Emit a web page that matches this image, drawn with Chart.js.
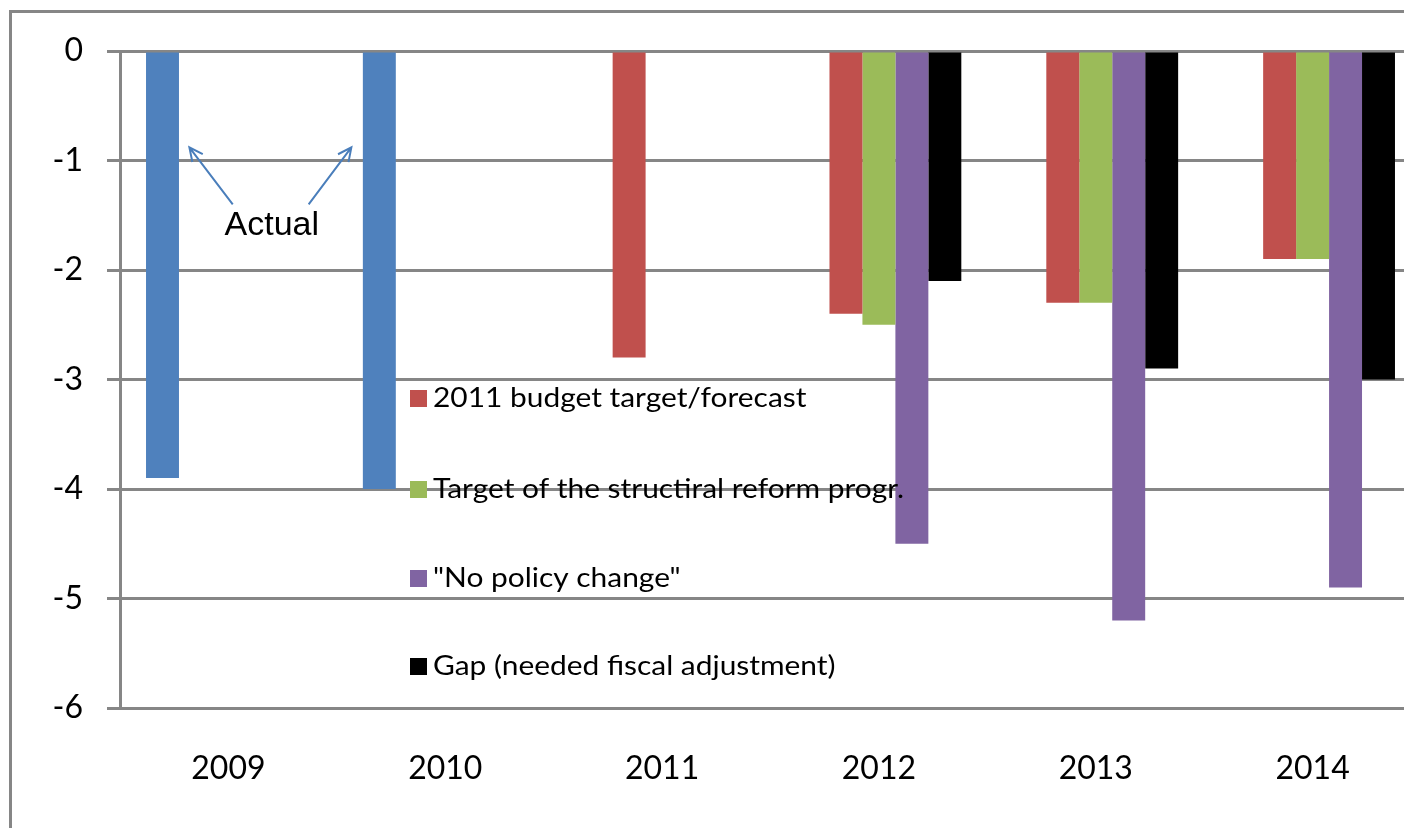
<!DOCTYPE html>
<html lang="en">
<head>
    <meta charset="UTF-8">
    <title>Budget balance: actual, targets and gap</title>
    <script src="https://cdn.jsdelivr.net/npm/chart.js"></script>
    <style>
        html, body { margin: 0; padding: 0; background: #fff; overflow: hidden; }
        #wrap { width: 1430px; height: 828px; }
    </style>
</head>
<body>
    <div id="wrap">
        <canvas id="myChart" width="1430" height="828"></canvas>
    </div>

    <script>
        const years = ['2009', '2010', '2011', '2012', '2013', '2014'];

        const actual      = [-3.9, -4.0, null, null, null, null];
        const budget2011  = [null, null, -2.8, -2.4, -2.3, -1.9];
        const reformProg  = [null, null, null, -2.5, -2.3, -1.9];
        const noPolicy    = [null, null, null, -4.5, -5.2, -4.9];
        const gap         = [null, null, null, -2.1, -2.9, -3.0];

        const gridColor = '#868686';
        const font = "Lato, 'Open Sans', sans-serif";

        // legend drawn inside the plot, like the original (text a bit stretched sideways)
        const insideLegend = {
            id: 'insideLegend',
            afterDraw(chart) {
                const ctx = chart.ctx;
                const ys = [398, 489, 578, 666];
                ctx.save();
                ctx.font = '26px ' + font;
                ctx.textBaseline = 'middle';
                chart.data.datasets.slice(1).forEach((ds, i) => {
                    ctx.fillStyle = ds.backgroundColor;
                    ctx.fillRect(410, ys[i] - 8, 17, 17);
                    ctx.save();
                    ctx.translate(433, ys[i] + 1);
                    ctx.scale(1.15, 1);
                    ctx.fillStyle = '#000';
                    ctx.fillText(ds.label, 0, 0);
                    ctx.restore();
                });
                ctx.restore();
            }
        };

        function arrow(ctx, x1, y1, x2, y2) {
            const a = Math.atan2(y2 - y1, x2 - x1);
            const h = 15;
            ctx.beginPath();
            ctx.moveTo(x1, y1);
            ctx.lineTo(x2, y2);
            ctx.moveTo(x2 - h * Math.cos(a - 0.45), y2 - h * Math.sin(a - 0.45));
            ctx.lineTo(x2, y2);
            ctx.lineTo(x2 - h * Math.cos(a + 0.45), y2 - h * Math.sin(a + 0.45));
            ctx.stroke();
        }

        // "Actual" note with arrows, plus the outer frame
        const notes = {
            id: 'notes',
            afterDraw(chart) {
                const ctx = chart.ctx;
                const xs = chart.scales.x, ys = chart.scales.y;
                const px = v => xs.getPixelForValue(0) + v * (xs.getPixelForValue(1) - xs.getPixelForValue(0));
                ctx.save();
                ctx.strokeStyle = gridColor;
                ctx.lineWidth = 3;
                ctx.beginPath();
                ctx.moveTo(10.5, 828);
                ctx.lineTo(10.5, 11.5);
                ctx.lineTo(1430, 11.5);
                ctx.stroke();

                ctx.strokeStyle = '#4a7ebb';
                ctx.lineWidth = 2;
                arrow(ctx, px(0.02), ys.getPixelForValue(-1.40), px(-0.18), ys.getPixelForValue(-0.88));
                arrow(ctx, px(0.37), ys.getPixelForValue(-1.40), px(0.567), ys.getPixelForValue(-0.88));

                ctx.fillStyle = '#000';
                ctx.font = "34px 'Liberation Sans', Arial, sans-serif";
                ctx.textAlign = 'center';
                ctx.textBaseline = 'alphabetic';
                ctx.fillText('Actual', px(0.2), ys.getPixelForValue(-1.68));
                ctx.restore();
            }
        };

        const config = {
            type: 'bar',
            data: {
                labels: years,
                datasets: [
                    { label: 'Actual', data: actual, backgroundColor: '#4f81bd' },
                    { label: '2011 budget target/forecast', data: budget2011, backgroundColor: '#c0504d' },
                    { label: 'Target of the structiral reform progr.', data: reformProg, backgroundColor: '#9bbb59' },
                    { label: '"No policy change"', data: noPolicy, backgroundColor: '#8064a2' },
                    { label: 'Gap (needed fiscal adjustment)', data: gap, backgroundColor: '#000000' }
                ]
            },
            options: {
                responsive: false,
                animation: false,
                categoryPercentage: 0.76,
                barPercentage: 1,
                layout: { padding: { top: 51, right: 9, left: 0, bottom: 0 } },
                plugins: {
                    legend: { display: false },
                    tooltip: { enabled: false }
                },
                scales: {
                    x: {
                        grid: { display: false, drawTicks: false },
                        border: { display: false },
                        ticks: { color: '#000', font: { family: font, size: 32 }, padding: 41 },
                        afterFit(scale) { scale.height = 120; }
                    },
                    y: {
                        min: -6,
                        max: 0,
                        ticks: { stepSize: 1, color: '#000', font: { family: font, size: 32 }, padding: 24 },
                        grid: { color: gridColor, lineWidth: 3, tickLength: 13 },
                        border: { display: true, color: gridColor, width: 3 },
                        afterFit(scale) { scale.width = 120; }
                    }
                }
            },
            plugins: [insideLegend, notes]
        };

        const ctx = document.getElementById('myChart').getContext('2d');
        const myChart = new Chart(ctx, config);
    </script>
</body>
</html>
